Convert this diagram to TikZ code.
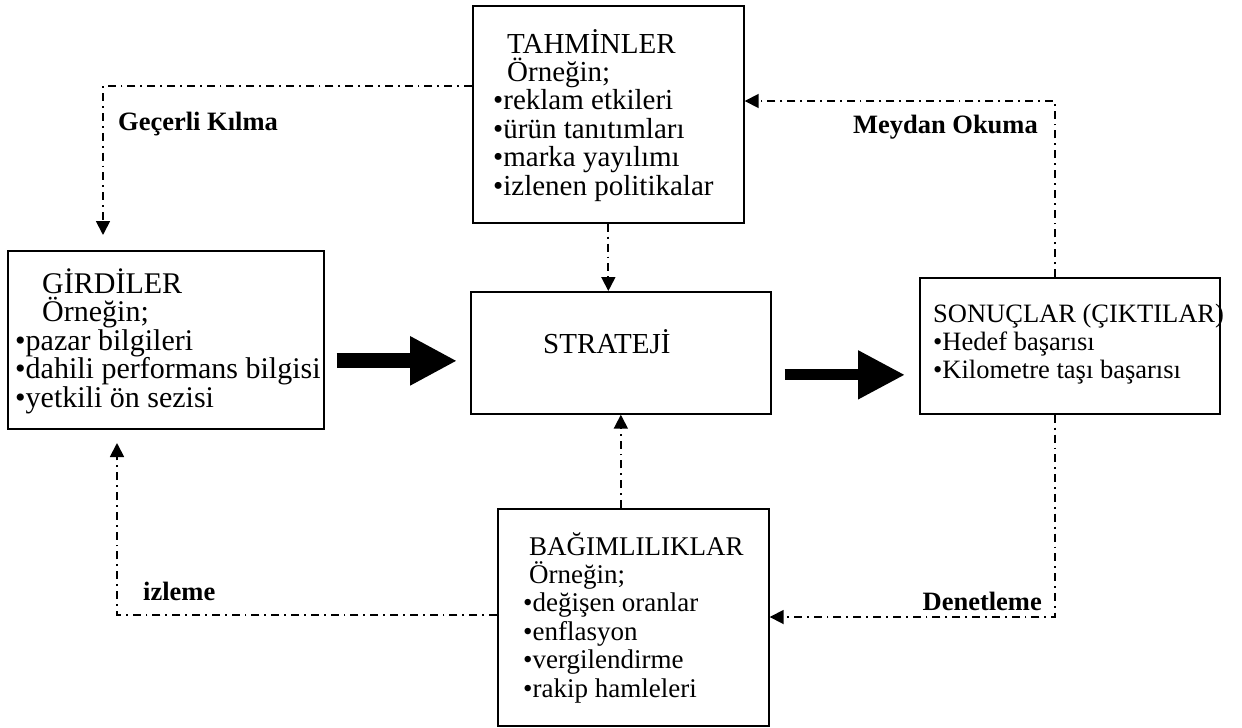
\documentclass[tikz,border=0pt]{standalone}
\usepackage{fontspec}
\setmainfont{Liberation Serif}
\usetikzlibrary{arrows.meta}
\begin{document}
\begin{tikzpicture}[x=1pt,y=-1pt,
  box/.style={draw, line width=1.7pt, anchor=north west, inner sep=0pt},
  line/.style={anchor=base west, inner sep=0pt, font=\fontsize{#1}{#1}\selectfont},
  line/.default=27,
  tag/.style={anchor=base west, inner sep=0pt, font=\fontsize{26.5}{27}\selectfont\bfseries},
  link/.style={line width=1.8pt, dash pattern=on 8pt off 5pt on 1.8pt off 5pt,
    -{Triangle[width=14pt,length=14pt]}},
  bigarrow/.style={-{Triangle[width=46pt,length=47pt]}}
]
\fill[white] (0,0) rectangle (1242,728);
\useasboundingbox (0,0) rectangle (1242,728);

% boxes
\node[box, minimum width=271pt, minimum height=217pt] (tah) at (472,5) {};
\node[box, minimum width=316pt, minimum height=178pt] (gir) at (7,250) {};
\node[box, minimum width=300pt, minimum height=122pt] (str) at (470,291) {};
\node[box, minimum width=300pt, minimum height=136pt] (son) at (919,277) {};
\node[box, minimum width=271pt, minimum height=217pt] (bag) at (497,508) {};

% box texts
\node[line=29] (tah-1) at (507,53) {TAHMİNLER};
\node[line=29] (tah-2) at (507,81.4) {Örneğin;};
\foreach \t [count=\i from 3] in {{•reklam etkileri},{•ürün tanıtımları},{•marka yayılımı},{•izlenen politikalar}}
  \node[line=29] (tah-\i) at (493,{53+28.4*(\i-1)}) {\t};

\node[line=30] (gir-1) at (42,293) {GİRDİLER};
\node[line=30] (gir-2) at (42,321.5) {Örneğin;};
\foreach \t [count=\i from 3] in {{•pazar bilgileri},{•dahili performans bilgisi},{•yetkili ön sezisi}}
  \node[line=30] (gir-\i) at (15,{293+28.5*(\i-1)}) {\t};

\node[line=29] (str-1) at (543,353) {STRATEJİ};

\foreach \t [count=\i] in {{SONUÇLAR (ÇIKTILAR)},{•Hedef başarısı},{•Kilometre taşı başarısı}}
  \node[line=26.5] (son-\i) at (933,{322+28*(\i-1)}) {\t};

\node[line=27] (bag-1) at (529,555) {BAĞIMLILIKLAR};
\node[line=27] (bag-2) at (529,583.4) {Örneğin;};
\foreach \t [count=\i from 3] in {{•değişen oranlar},{•enflasyon},{•vergilendirme},{•rakip hamleleri}}
  \node[line=27] (bag-\i) at (523,{555+28.4*(\i-1)}) {\t};

% main flow
\draw[bigarrow, line width=15pt, shorten <=12pt, shorten >=13pt]
  ([yshift=-21pt]gir.east) -- ([yshift=-21pt]gir.east -| str.west);
\draw[bigarrow, line width=11pt, shorten <=13pt, shorten >=14pt]
  ([yshift=-22pt]str.east) -- ([yshift=-22pt]str.east -| son.west);

% feedback loops
\coordinate (gkEnd) at (103,235);
\coordinate (izEnd) at (117,443);
\draw[link] ([yshift=-81pt]tah.north west) -| (gkEnd);
\draw[link] (tah.south) -- (tah.south |- str.north);
\draw[link] (bag.north -| str.south) -- (str.south);
\draw[link] ([xshift=-15pt]son.north) |- ([yshift=-96pt]tah.north east);
\draw[link] ([xshift=-15pt]son.south) |- ([yshift=-109pt]bag.north east);
\draw[link] ([yshift=-107pt]bag.north west) -| (izEnd);

% loop labels
\node[tag] (gk) at (118,130) {Geçerli Kılma};
\node[tag, anchor=base east] (mo) at (1038,133) {Meydan Okuma};
\node[tag] (iz) at (143,600) {izleme};
\node[tag, anchor=base east] (de) at (1042,610) {Denetleme};
\end{tikzpicture}
\end{document}
